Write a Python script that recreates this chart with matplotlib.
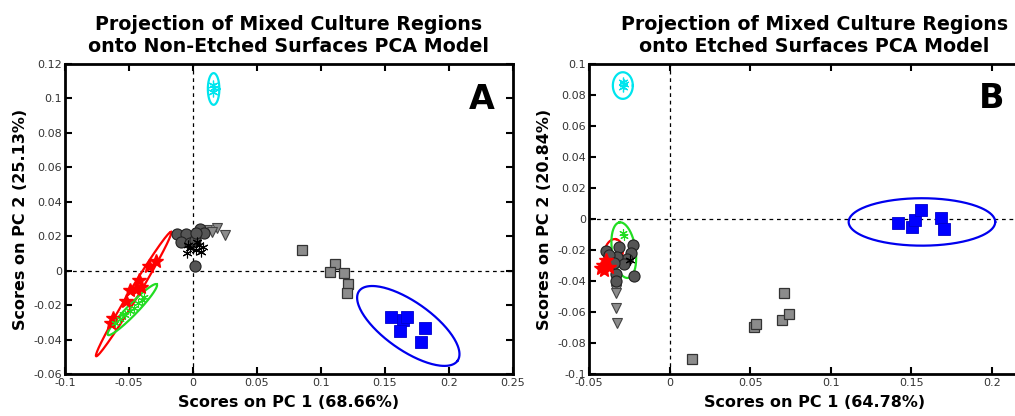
import numpy as np
import matplotlib
matplotlib.use('Agg')
import matplotlib.pyplot as plt

plt.rcParams['font.family'] = 'DejaVu Sans'
plt.rcParams['axes.unicode_minus'] = False

# ── Panel A data (Non-Etched model) ─────────────────────────────────────
a_blue_x = [0.155, 0.164, 0.167, 0.162, 0.181, 0.178]
a_blue_y = [-0.0267, -0.0286, -0.0267, -0.0348, -0.0335, -0.0416]
a_gsq_x = [0.085, 0.111, 0.107, 0.118, 0.121, 0.120]
a_gsq_y = [0.0118, 0.0041, -0.0008, -0.0015, -0.0079, -0.0128]
a_circ_x = [-0.0125, -0.0052, -0.0091, -0.0026, 0.0013, 0.0052, 0.0083, 0.0026, 0.0013]
a_circ_y = [0.0213, 0.0213, 0.0168, 0.0159, 0.0178, 0.0240, 0.0221, 0.0217, 0.0029]
a_tri_x = [0.0107, 0.0185, 0.0250, 0.0150]
a_tri_y = [0.0236, 0.0246, 0.0207, 0.0225]
a_ast_x = [-0.005, -0.002, 0.002, 0.005, 0.008, 0.003, -0.004, 0.006]
a_ast_y = [0.0105, 0.0130, 0.0120, 0.0150, 0.0140, 0.0165, 0.0150, 0.0110]
a_red_x = [-0.0286, -0.0344, -0.0422, -0.0443, -0.0495, -0.0404, -0.0526, -0.0625, -0.0638]
a_red_y = [0.0058, 0.0029, -0.0054, -0.0108, -0.0112, -0.0093, -0.0174, -0.0277, -0.0306]
a_grn_x = [-0.061, -0.057, -0.053, -0.049, -0.046, -0.043, -0.040, -0.038, -0.055]
a_grn_y = [-0.0306, -0.0280, -0.0260, -0.0235, -0.0215, -0.0190, -0.0170, -0.0150, -0.0250]
a_cyan_x = [0.016, 0.0165, 0.0158]
a_cyan_y = [0.1035, 0.1060, 0.1080]

# ellipses: centre x, centre y, half-axis vector u, half-axis vector v
a_ell_blue = (0.1682, -0.0321, (0.0385, -0.0202), (-0.0108, -0.0114))
a_ell_red = (-0.0464, -0.0136, (0.0293, 0.0361), (0.0031, -0.0014))
a_ell_grn = (-0.0474, -0.0226, (0.0191, 0.0147), (0.0030, -0.0021))
a_ell_cyan = (0.0161, 0.1055, (0.0045, 0.0), (0.0, 0.0092))

# ── Panel B data (Etched model) ─────────────────────────────────────────
b_blue_x = [0.1418, 0.1507, 0.1526, 0.1559, 0.1687, 0.1704]
b_blue_y = [-0.0028, -0.0050, -0.0006, 0.0058, 0.0004, -0.0067]
b_gsq_x = [0.0139, 0.0524, 0.0534, 0.0696, 0.0743, 0.0712]
b_gsq_y = [-0.0906, -0.0697, -0.0675, -0.0652, -0.0613, -0.0479]
b_circ_x = [-0.0393, -0.0311, -0.0228, -0.0238, -0.0265, -0.0327, -0.0280, -0.0331, -0.0331, -0.0222, -0.0373, -0.0342]
b_circ_y = [-0.0207, -0.0179, -0.0168, -0.0218, -0.0255, -0.0244, -0.0291, -0.0352, -0.0399, -0.0365, -0.0233, -0.0287]
b_tri_x = [-0.0335, -0.0331, -0.0331, -0.0331, -0.0328]
b_tri_y = [-0.0449, -0.0460, -0.0475, -0.0572, -0.0671]
b_red_x = [-0.0424, -0.0404, -0.0393, -0.0373, -0.0414]
b_red_y = [-0.0319, -0.0330, -0.0265, -0.0308, -0.0298]
b_grn_x = [-0.0286, -0.0280]
b_grn_y = [-0.0093, -0.0110]
b_ast_x = [-0.0244]
b_ast_y = [-0.0265]
b_cyan_x = [-0.0290, -0.0285, -0.0292]
b_cyan_y = [0.0850, 0.0870, 0.0885]

b_ell_blue = (0.1567, -0.0019, (0.0455, 0.0), (0.0, 0.0153))
b_ell_red = (-0.0348, -0.0218, (0.0015, 0.0088), (0.0056, -0.0010))
b_ell_grn = (-0.0284, -0.0201, (-0.0027, 0.0179), (0.0072, 0.0012))
b_ell_cyan = (-0.0290, 0.0861, (0.0062, 0.0), (0.0, 0.0086))

ASTER = (6, 2, 0)


def draw_ellipse(ax, ell, color):
    cx, cy, u, v = ell
    t = np.linspace(0, 2 * np.pi, 200)
    ax.plot(cx + u[0] * np.cos(t) + v[0] * np.sin(t),
            cy + u[1] * np.cos(t) + v[1] * np.sin(t),
            color=color, lw=1.6, zorder=4)


def style_axes(ax):
    ax.axhline(0, color='black', ls='--', lw=0.9, dashes=(3, 3), zorder=1)
    ax.axvline(0, color='black', ls='--', lw=0.9, dashes=(3, 3), zorder=1)
    ax.tick_params(direction='in', top=True, right=True, length=5, width=1.5,
                   labelsize=8, labelcolor='#333333', pad=2)
    ax.tick_params(axis='x', pad=3)
    for s in ax.spines.values():
        s.set_linewidth(2)


def draw_panel(ax, d):
    ax.plot(d['circ_x'], d['circ_y'], 'o', ms=8, mfc='#555555', mec='#222222', mew=0.8, zorder=5)
    ax.plot(d['tri_x'], d['tri_y'], 'v', ms=7.5, mfc='#8c8c8c', mec='#444444', mew=0.8, zorder=4)
    ax.plot(d['ast_x'], d['ast_y'], marker=ASTER, ls='none', ms=7, color='black', mew=0.8, zorder=6)
    ax.plot(d['red_x'], d['red_y'], '*', ms=10, color='red', mec='red', zorder=5)
    ax.plot(d['grn_x'], d['grn_y'], marker=ASTER, ls='none', ms=6, color='#22dd22', mew=0.8, zorder=6)
    ax.plot(d['cyan_x'], d['cyan_y'], marker=ASTER, ls='none', ms=7, color='#00e5ee', mew=0.9, zorder=6)
    ax.plot(d['gsq_x'], d['gsq_y'], 's', ms=7.5, mfc='#8c8c8c', mec='#333333', mew=0.9, zorder=5)
    ax.plot(d['blue_x'], d['blue_y'], 's', ms=8.5, mfc='#0000ff', mec='#0000cc', mew=0.6, zorder=5)
    draw_ellipse(ax, d['ell_blue'], '#0000ee')
    draw_ellipse(ax, d['ell_red'], '#ff0000')
    draw_ellipse(ax, d['ell_grn'], '#22dd22')
    draw_ellipse(ax, d['ell_cyan'], '#00e5ee')


fig = plt.figure(figsize=(10.15, 4.16), dpi=100)
axA = fig.add_axes([65 / 1015, 42 / 416, 448 / 1015, 310 / 416])
axB = fig.add_axes([589 / 1015, 42 / 416, 451 / 1015, 310 / 416])

panelA = dict(blue_x=a_blue_x, blue_y=a_blue_y, gsq_x=a_gsq_x, gsq_y=a_gsq_y,
              circ_x=a_circ_x, circ_y=a_circ_y, tri_x=a_tri_x, tri_y=a_tri_y,
              ast_x=a_ast_x, ast_y=a_ast_y, red_x=a_red_x, red_y=a_red_y,
              grn_x=a_grn_x, grn_y=a_grn_y, cyan_x=a_cyan_x, cyan_y=a_cyan_y,
              ell_blue=a_ell_blue, ell_red=a_ell_red, ell_grn=a_ell_grn, ell_cyan=a_ell_cyan)
panelB = dict(blue_x=b_blue_x, blue_y=b_blue_y, gsq_x=b_gsq_x, gsq_y=b_gsq_y,
              circ_x=b_circ_x, circ_y=b_circ_y, tri_x=b_tri_x, tri_y=b_tri_y,
              ast_x=b_ast_x, ast_y=b_ast_y, red_x=b_red_x, red_y=b_red_y,
              grn_x=b_grn_x, grn_y=b_grn_y, cyan_x=b_cyan_x, cyan_y=b_cyan_y,
              ell_blue=b_ell_blue, ell_red=b_ell_red, ell_grn=b_ell_grn, ell_cyan=b_ell_cyan)

# ── A ──
style_axes(axA)
draw_panel(axA, panelA)
axA.set_xlim(-0.1, 0.25)
axA.set_ylim(-0.06, 0.12)
axA.set_xticks([-0.1, -0.05, 0, 0.05, 0.1, 0.15, 0.2, 0.25])
axA.set_xticklabels(['-0.1', '-0.05', '0', '0.05', '0.1', '0.15', '0.2', '0.25'])
axA.set_yticks([-0.06, -0.04, -0.02, 0, 0.02, 0.04, 0.06, 0.08, 0.1, 0.12])
axA.set_yticklabels(['-0.06', '-0.04', '-0.02', '0', '0.02', '0.04', '0.06', '0.08', '0.1', '0.12'])
axA.set_xlabel('Scores on PC 1 (68.66%)', fontsize=11.5, fontweight='bold', labelpad=5)
axA.set_ylabel('Scores on PC 2 (25.13%)', fontsize=11.5, fontweight='bold', labelpad=4)
axA.set_title('Projection of Mixed Culture Regions\nonto Non-Etched Surfaces PCA Model',
              fontsize=13.7, fontweight='bold', pad=9, linespacing=1.15)
axA.text(0.93, 0.885, 'A', transform=axA.transAxes, fontsize=24, fontweight='bold',
         ha='center', va='center')

# ── B ──
style_axes(axB)
draw_panel(axB, panelB)
axB.set_xlim(-0.05, 0.23)
axB.set_ylim(-0.1, 0.1)
axB.set_xticks([-0.05, 0, 0.05, 0.1, 0.15, 0.2])
axB.set_xticklabels(['-0.05', '0', '0.05', '0.1', '0.15', '0.2'])
axB.set_yticks([-0.1, -0.08, -0.06, -0.04, -0.02, 0, 0.02, 0.04, 0.06, 0.08, 0.1])
axB.set_yticklabels(['-0.1', '-0.08', '-0.06', '-0.04', '-0.02', '0', '0.02', '0.04', '0.06', '0.08', '0.1'])
axB.set_xlabel('Scores on PC 1 (64.78%)', fontsize=11.5, fontweight='bold', labelpad=5)
axB.set_ylabel('Scores on PC 2 (20.84%)', fontsize=11.5, fontweight='bold', labelpad=4)
axB.set_title('Projection of Mixed Culture Regions\nonto Etched Surfaces PCA Model',
              fontsize=13.7, fontweight='bold', pad=9, linespacing=1.15)
axB.text(0.2, 0.078, 'B', fontsize=24, fontweight='bold', ha='center', va='center')

fig.savefig('out.png', dpi=100)
